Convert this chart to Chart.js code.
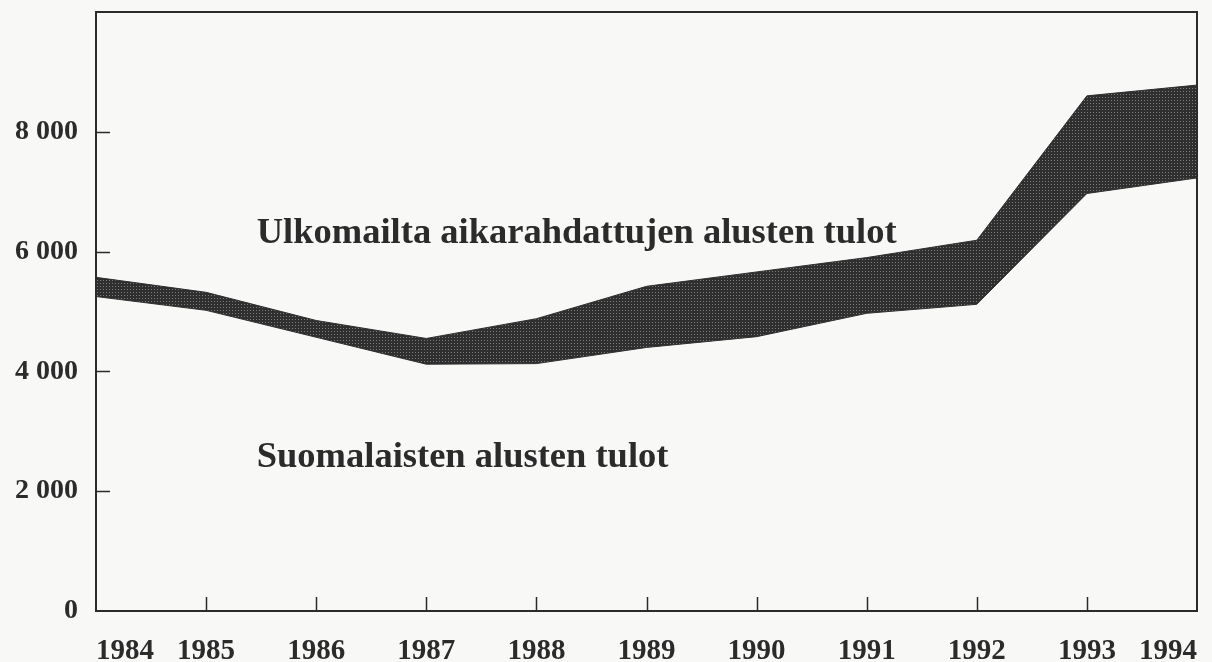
<!DOCTYPE html>
<html>
<head>
<meta charset="utf-8">
<script src="https://cdn.jsdelivr.net/npm/chart.js@4.4.1/dist/chart.umd.min.js"></script>
<style>
  html, body { margin: 0; padding: 0; background: #f8f8f7; overflow: hidden; }
  #wrap { width: 1212px; height: 662px; }
</style>
</head>
<body>
<div id="wrap"><canvas id="chart"></canvas></div>
<script>
// Vuodet
const years = ['1984', '1985', '1986', '1987', '1988', '1989', '1990', '1991', '1992', '1993', '1994'];
// Suomalaisten alusten tulot
const finnishIncome = [5250, 5020, 4570, 4120, 4130, 4400, 4580, 4970, 5120, 6970, 7230];
// Ulkomailta aikarahdattujen alusten tulot (pinotaan edellisen päälle)
const charteredIncome = [320, 300, 280, 430, 750, 1020, 1080, 930, 1070, 1630, 1550];
// Y-akseli
const yStep = 2000;
const yMax = 10000;
// Alueiden nimet (x = vuosi-indeksi, y = tekstin perusviiva arvona)
const areaLabels = [
  { text: 'Ulkomailta aikarahdattujen alusten tulot', x: 1.46, y: 6150 },
  { text: 'Suomalaisten alusten tulot', x: 1.46, y: 2400 }
];

const ink = '#2b2b2b';
const serif = '"Liberation Serif", "Times New Roman", serif';

const canvas = document.getElementById('chart');
const ctx = canvas.getContext('2d');

// rasteripinta tummalle kaistalle
function halftone() {
  const c = document.createElement('canvas');
  c.width = 3; c.height = 3;
  const g = c.getContext('2d');
  g.fillStyle = '#2f2f2f';
  g.fillRect(0, 0, 3, 3);
  g.fillStyle = '#7c7c7c';
  g.fillRect(1, 1, 1, 1);
  return ctx.createPattern(c, 'repeat');
}

function fmt(v) {
  return String(v).replace(/\B(?=(\d{3})+(?!\d))/g, ' ');
}

// kehys ja sisäänpäin osoittavat tikit
const frame = {
  id: 'frame',
  afterDatasetsDraw(chart) {
    const { ctx, chartArea: a, scales: { x, y } } = chart;
    ctx.save();
    ctx.strokeStyle = ink;
    ctx.lineWidth = 2;
    ctx.strokeRect(a.left, a.top, a.right - a.left, a.bottom - a.top);
    ctx.beginPath();
    y.ticks.forEach(t => {
      if (t.value <= 0 || t.value >= yMax) return;
      const py = Math.round(y.getPixelForValue(t.value)) + 0.5;
      ctx.moveTo(a.left, py);
      ctx.lineTo(a.left + 14, py);
    });
    x.ticks.forEach((t, i) => {
      if (i === 0 || i === x.ticks.length - 1) return;
      const px = Math.round(x.getPixelForTick(i)) + 0.5;
      ctx.moveTo(px, a.bottom);
      ctx.lineTo(px, a.bottom - 14);
    });
    ctx.lineWidth = 1.5;
    ctx.stroke();
    ctx.restore();
  }
};

const areaText = {
  id: 'areaText',
  afterDatasetsDraw(chart) {
    const { ctx, scales: { x, y } } = chart;
    ctx.save();
    ctx.fillStyle = ink;
    ctx.font = 'bold 36.5px ' + serif;
    ctx.textAlign = 'left';
    ctx.textBaseline = 'alphabetic';
    areaLabels.forEach(l => {
      ctx.fillText(l.text, x.getPixelForValue(l.x), y.getPixelForValue(l.y));
    });
    ctx.restore();
  }
};

new Chart(canvas, {
  type: 'line',
  data: {
    labels: years,
    datasets: [{
      label: 'Suomalaisten alusten tulot',
      data: finnishIncome,
      borderColor: '#2f2f2f',
      borderWidth: 1,
      pointRadius: 0,
      tension: 0,
      fill: false
    }, {
      label: 'Ulkomailta aikarahdattujen alusten tulot',
      data: charteredIncome,
      borderColor: '#2f2f2f',
      borderWidth: 1,
      backgroundColor: halftone(),
      pointRadius: 0,
      tension: 0,
      fill: '-1'
    }]
  },
  options: {
    responsive: true,
    maintainAspectRatio: false,
    animation: false,
    layout: { padding: { top: 12, right: 15, left: 0, bottom: 0 } },
    plugins: {
      legend: { display: false },
      tooltip: { enabled: false }
    },
    scales: {
      x: {
        grid: { display: false, drawTicks: false },
        border: { display: false },
        ticks: {
          align: 'inner',
          padding: 23,
          color: ink,
          font: { family: serif, size: 29, weight: 'bold' },
          maxRotation: 0,
          autoSkip: false
        },
        afterFit(scale) {
          scale.height = 51;
          scale.paddingLeft = 0;
          scale.paddingRight = 0;
        }
      },
      y: {
        stacked: true,
        min: 0,
        max: yMax,
        grid: { display: false, drawTicks: false },
        border: { display: false },
        ticks: {
          stepSize: yStep,
          padding: 18,
          color: ink,
          font: { family: serif, size: 28, weight: 'bold' },
          callback: v => (v >= yMax ? null : fmt(v))
        },
        afterFit(scale) {
          scale.width = 96;
          scale.paddingTop = 0;
          scale.paddingBottom = 0;
        }
      }
    }
  },
  plugins: [frame, areaText]
});
</script>
</body>
</html>
